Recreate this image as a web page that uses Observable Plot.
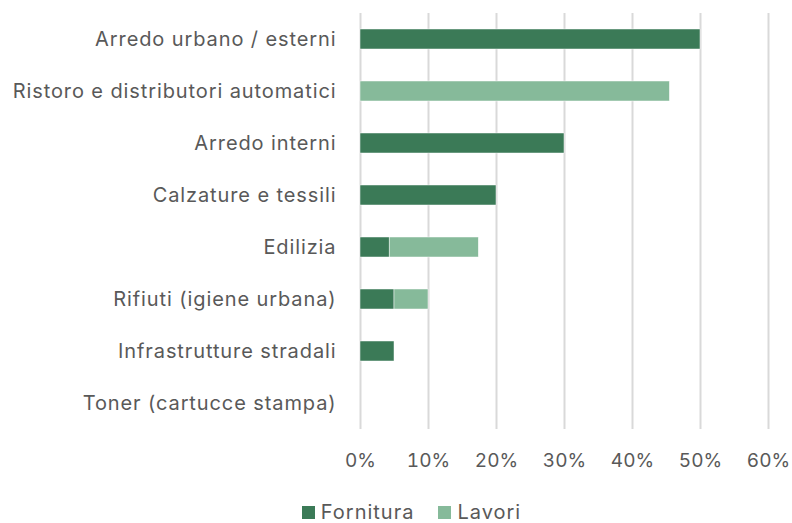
<!DOCTYPE html>
<html>
<head>
<meta charset="utf-8">
<script src="https://cdn.jsdelivr.net/npm/d3@7"></script>
<script src="https://cdn.jsdelivr.net/npm/@observablehq/plot@0.6"></script>
<style>
  html, body { margin: 0; padding: 0; background: #fff; }
  #chart { width: 792px; font-family: Inter, sans-serif; }
  .ylab text { letter-spacing: 0.9px; font-size: 20px; }
  .legend { display: flex; justify-content: center; gap: 24px; padding-left: 31px; margin-top: 20px;
            font-size: 20px; letter-spacing: 1px; color: #595959; font-family: Inter, sans-serif; }
  .legend span.item { display: flex; align-items: center; gap: 6px; }
  .legend span.sw { width: 13px; height: 13px; display: inline-block; }
</style>
</head>
<body>
<div id="chart"></div>
<script>
const categories = [
  "Arredo urbano / esterni",
  "Ristoro e distributori automatici",
  "Arredo interni",
  "Calzature e tessili",
  "Edilizia",
  "Rifiuti (igiene urbana)",
  "Infrastrutture stradali",
  "Toner (cartucce stampa)"
];
const fornitura = [0.50, 0, 0.30, 0.20, 0.043, 0.05, 0.05, 0];
const lavori    = [0, 0.455, 0, 0, 0.131, 0.05, 0, 0];
const seriesNames = ["Fornitura", "Lavori"];
const seriesColors = ["#3b7a57", "#86ba9a"];
const xTicks = [0, 0.1, 0.2, 0.3, 0.4, 0.5, 0.6];

const rows = [];
categories.forEach((c, i) => {
  rows.push({category: c, series: "Fornitura", value: fornitura[i]});
  rows.push({category: c, series: "Lavori", value: lavori[i]});
});

const chart = Plot.plot({
  width: 792,
  height: 480,
  marginLeft: 360,
  marginRight: 24,
  marginTop: 13,
  marginBottom: 51,
  style: {fontFamily: "Inter, sans-serif", fontSize: "19px", color: "#595959", background: "#fff"},
  x: {domain: [0, 0.6], ticks: xTicks, tickFormat: d => Math.round(d * 100) + "%", label: null},
  y: {domain: categories, paddingInner: 0.615, paddingOuter: 0.3075, label: null},
  color: {domain: seriesNames, range: seriesColors},
  marks: [
    Plot.gridX(xTicks, {stroke: "#d9d9d9", strokeOpacity: 1, strokeWidth: 2}),
    Plot.barX(rows, Plot.stackX({
      x: "value", y: "category", fill: "series",
      order: seriesNames,
      stroke: "#ffffff", strokeWidth: 0.6, strokeOpacity: 0.8
    })),
    Plot.axisX({ticks: xTicks, tickFormat: d => Math.round(d * 100) + "%", tickSize: 0, tickPadding: 24, fill: "#595959", label: null}),
    Plot.axisY({tickSize: 0, tickPadding: 24, fill: "#595959", label: null, className: "ylab"})
  ]
});
document.getElementById("chart").appendChild(chart);

const legend = document.createElement("div");
legend.className = "legend";
seriesNames.forEach((s, i) => {
  const item = document.createElement("span");
  item.className = "item";
  const sw = document.createElement("span");
  sw.className = "sw";
  sw.style.background = seriesColors[i];
  const t = document.createElement("span");
  t.textContent = s;
  item.appendChild(sw);
  item.appendChild(t);
  legend.appendChild(item);
});
document.getElementById("chart").appendChild(legend);
</script>
</body>
</html>
